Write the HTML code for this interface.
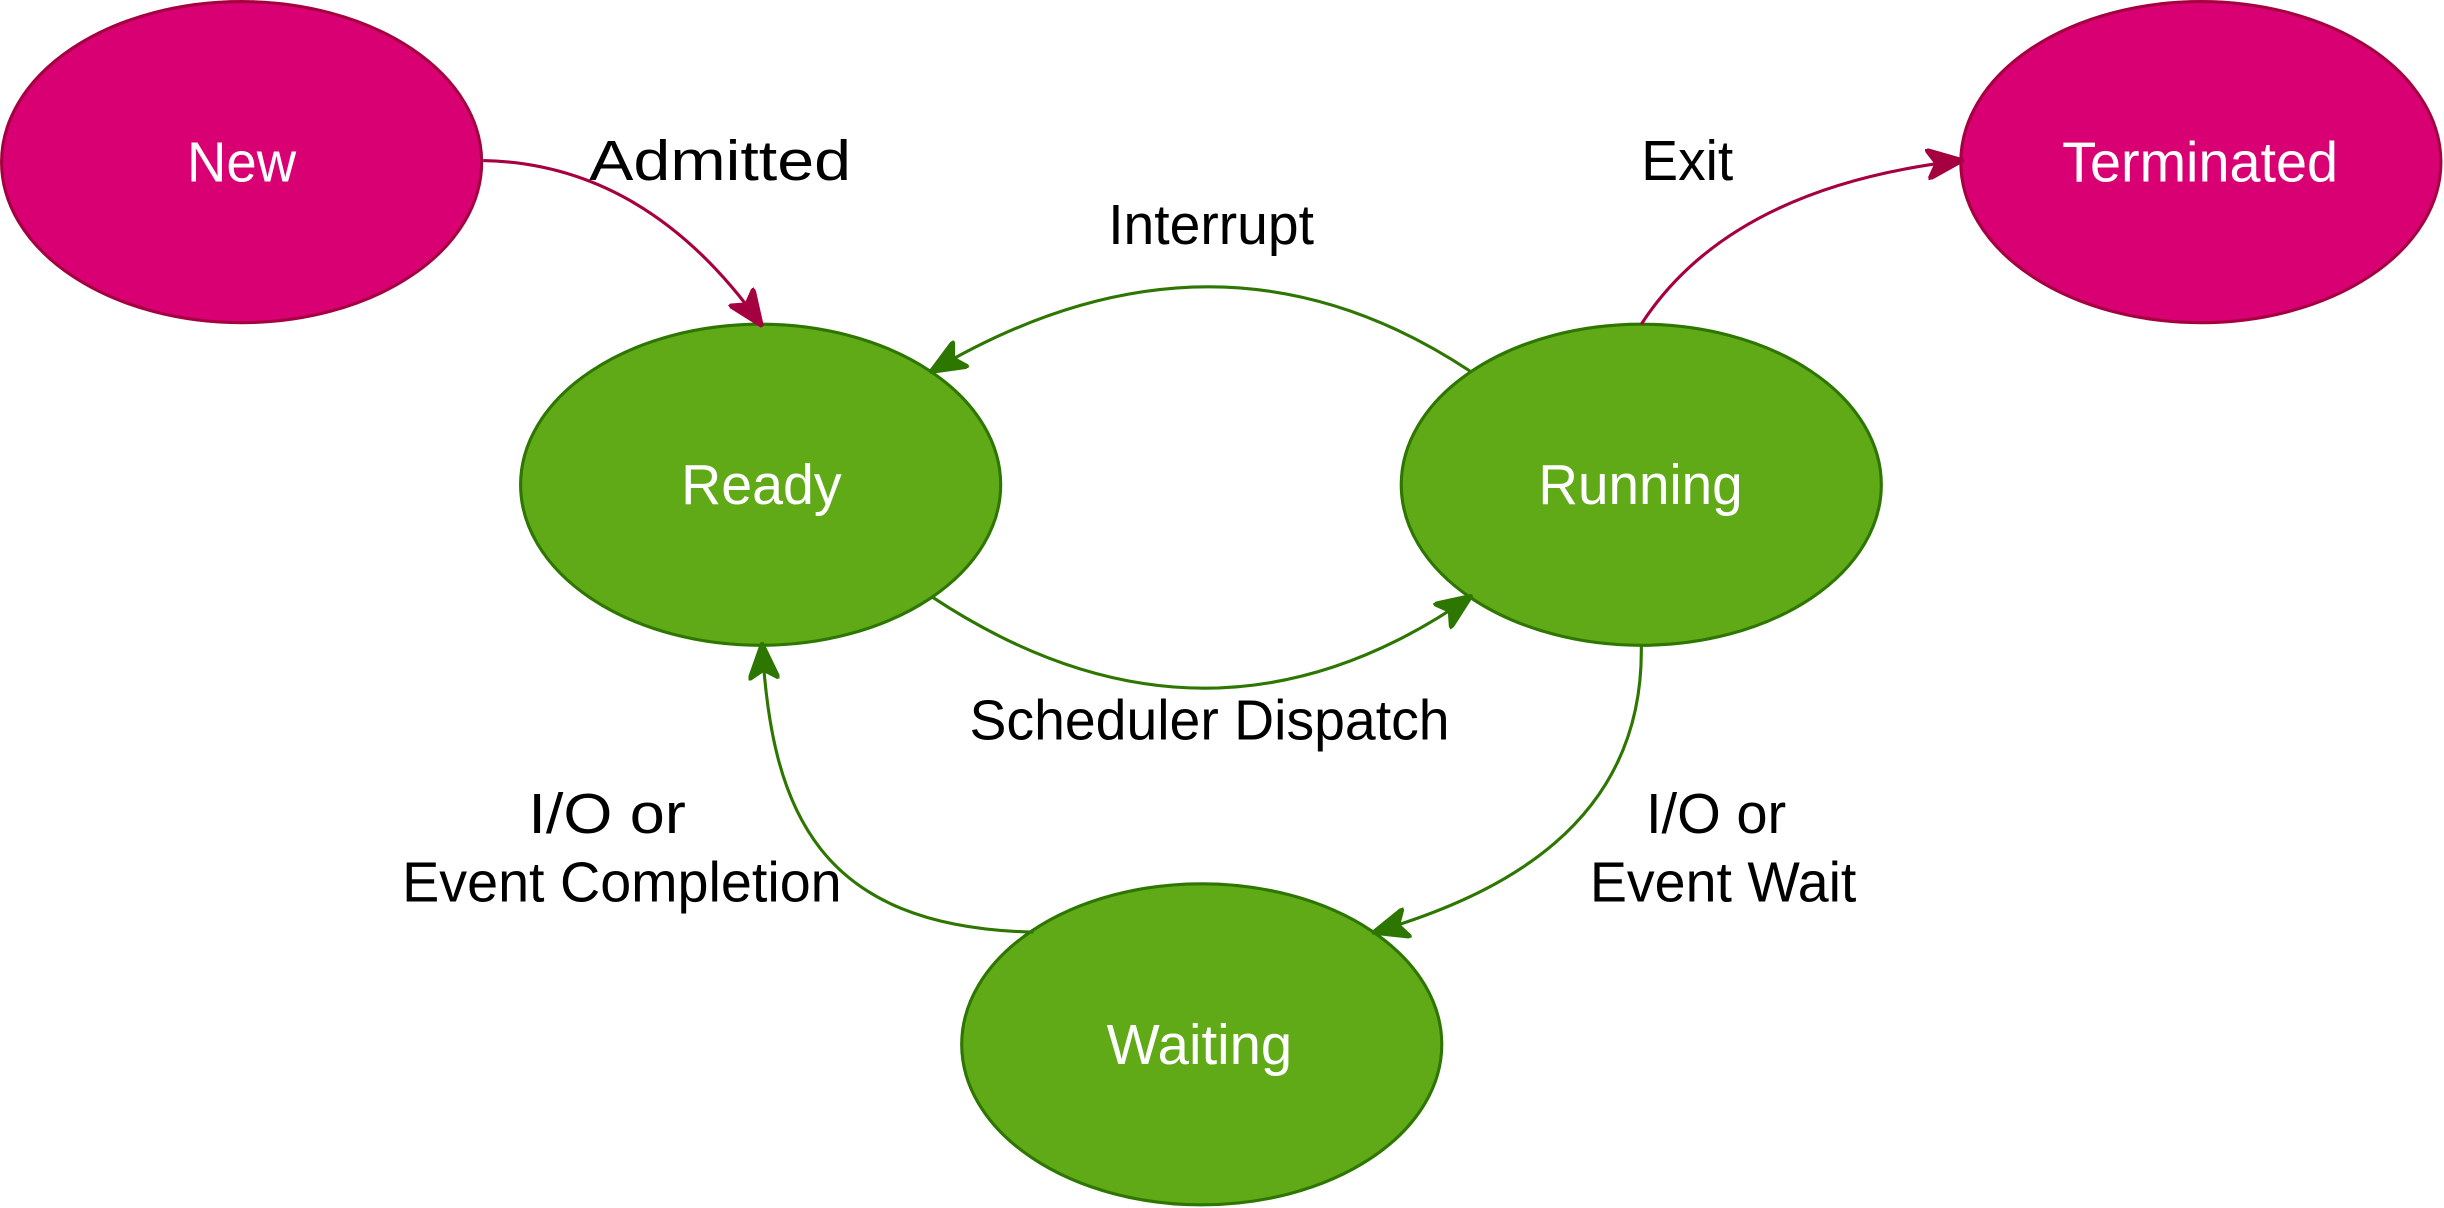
<!DOCTYPE html>
<html><head><meta charset="utf-8"><style>
html,body{margin:0;padding:0;background:#fff;}
svg{display:block;}
text{font-family:"Liberation Sans",Arial,sans-serif;font-size:36px;text-anchor:start;dominant-baseline:central;}
.w{fill:#fff;} .b{fill:#000;}
</style></head><body>
<svg width="2444" height="1208" viewBox="0 0 1568 775" xmlns="http://www.w3.org/2000/svg">
<defs>
<marker id="ap" markerUnits="userSpaceOnUse" markerWidth="24" markerHeight="20" viewBox="0 0 12 10" refX="11" refY="5" orient="auto">
<path d="M0,0 L12,5 L0,10 L3,5 z" fill="#a50040" stroke="#a50040"/></marker>
<marker id="ag" markerUnits="userSpaceOnUse" markerWidth="24" markerHeight="20" viewBox="0 0 12 10" refX="11" refY="5" orient="auto">
<path d="M0,0 L12,5 L0,10 L3,5 z" fill="#2d7600" stroke="#2d7600"/></marker>
</defs>
<g stroke-width="2">
<ellipse cx="155" cy="104" rx="154" ry="103" fill="#d80073" stroke="#a50040"/>
<ellipse cx="1412" cy="104" rx="154" ry="103" fill="#d80073" stroke="#a50040"/>
<ellipse cx="488" cy="311" rx="154" ry="103" fill="#60a917" stroke="#2d7600"/>
<ellipse cx="1053" cy="311" rx="154" ry="103" fill="#60a917" stroke="#2d7600"/>
<ellipse cx="771" cy="670" rx="154" ry="103" fill="#60a917" stroke="#2d7600"/>
</g>
<g fill="none" stroke-width="2">
<path d="M310,103 Q415,105 488,208" stroke="#a50040" marker-end="url(#ap)"/>
<path d="M1053,208 Q1110,120 1258,103" stroke="#a50040" marker-end="url(#ap)"/>
<path d="M943,238 Q780,130 598,238" stroke="#2d7600" marker-end="url(#ag)"/>
<path d="M598,383 Q775,500 943,383" stroke="#2d7600" marker-end="url(#ag)"/>
<path d="M1053,414 C1055,530 960,575 882,598" stroke="#2d7600" marker-end="url(#ag)"/>
<path d="M663,598 C525,595 495,520 489,414" stroke="#2d7600" marker-end="url(#ag)"/>
</g>
<text class="w" x="120" y="104" textLength="70" lengthAdjust="spacingAndGlyphs">New</text>
<text class="w" x="1323" y="104" textLength="177" lengthAdjust="spacingAndGlyphs">Terminated</text>
<text class="w" x="437" y="311" textLength="103" lengthAdjust="spacingAndGlyphs">Ready</text>
<text class="w" x="987" y="311" textLength="131" lengthAdjust="spacingAndGlyphs">Running</text>
<text class="w" x="710" y="670" textLength="119" lengthAdjust="spacingAndGlyphs">Waiting</text>
<text class="b" x="378" y="103" textLength="168" lengthAdjust="spacingAndGlyphs">Admitted</text>
<text class="b" x="1053" y="103" textLength="59" lengthAdjust="spacingAndGlyphs">Exit</text>
<text class="b" x="711" y="144" textLength="132" lengthAdjust="spacingAndGlyphs">Interrupt</text>
<text class="b" x="622" y="462" textLength="308" lengthAdjust="spacingAndGlyphs">Scheduler Dispatch</text>
<text class="b" x="339" y="522" textLength="101" lengthAdjust="spacingAndGlyphs">I/O or</text>
<text class="b" x="258" y="566" textLength="282" lengthAdjust="spacingAndGlyphs">Event Completion</text>
<text class="b" x="1056" y="522" textLength="90" lengthAdjust="spacingAndGlyphs">I/O or</text>
<text class="b" x="1020" y="566" textLength="171" lengthAdjust="spacingAndGlyphs">Event Wait</text>
</svg>
</body></html>
